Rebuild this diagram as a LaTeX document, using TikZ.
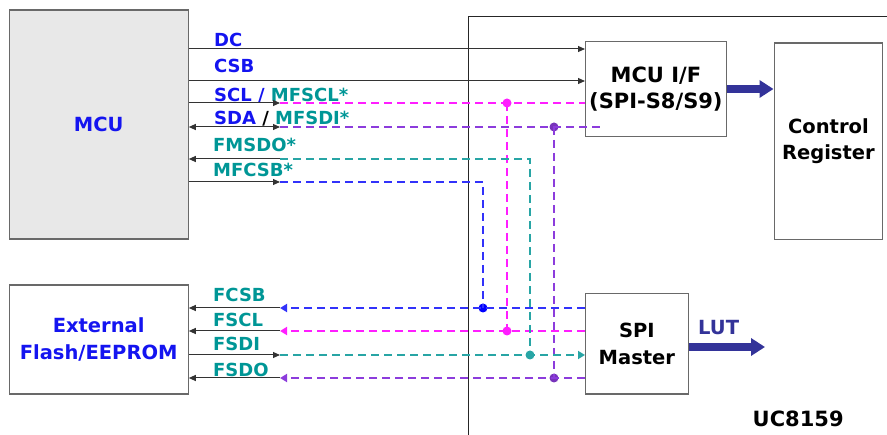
\documentclass[tikz,border=0pt]{standalone}
\usepackage{fontspec}
\setmainfont{DejaVu Sans}
\usetikzlibrary{arrows.meta,positioning}
\definecolor{sigblue}{RGB}{20,20,240}
\definecolor{sigteal}{RGB}{0,150,150}
\definecolor{dmag}{RGB}{255,30,255}
\definecolor{dpurp}{RGB}{140,60,220}
\definecolor{dblue}{RGB}{50,50,250}
\definecolor{dteal}{RGB}{40,165,165}
\definecolor{navy}{RGB}{51,51,153}
\definecolor{boxgray}{RGB}{105,105,105}
\definecolor{mcufill}{RGB}{232,232,232}
\begin{document}
\begin{tikzpicture}[x=1pt,y=-1pt,
  blk/.style={draw=boxgray,line width=1.3pt,inner sep=0pt,anchor=north west,align=center,font=\fontsize{19.5}{26.5}\selectfont\bfseries},
  sig/.style={anchor=base west,inner sep=0pt,font=\fontsize{18}{18}\selectfont\bfseries},
  wire/.style={draw=black!80,line width=1pt},
  tip/.style={-{Triangle[length=7pt,width=6pt]}},
  ctip/.style={-{Triangle[length=7pt,width=8pt]}},
  dashline/.style={line width=2pt,dash pattern=on 8pt off 5pt},
  dot/.style={circle,inner sep=0pt,minimum size=9pt},
  fat/.style={draw=navy,line width=8pt,-{Triangle[length=14pt,width=17pt]}}]
  \useasboundingbox (0,0) rectangle (887,435);
  \begin{scope}[every node/.style={blk}]
  \node[fill=mcufill,text=sigblue,minimum width=179pt,minimum height=229pt] (mcu) at (8.5,9.5) {MCU};
  \node[text=sigblue,minimum width=179pt,minimum height=109pt] (flash) at (8.5,284.5) {External\\Flash/EEPROM};
  \node[minimum width=140.5pt,minimum height=95pt,font=\fontsize{21}{25.7}\selectfont\bfseries] (mcuif) at (585,41) {MCU I/F\\(SPI-S8/S9)};
  \node[minimum width=108.5pt,minimum height=196.5pt] (ctrl) at (773.5,42.5) {Control\\Register};
  \node[minimum width=102.5pt,minimum height=100.5pt,font=\fontsize{19.5}{27}\selectfont\bfseries] (spim) at (585,293) {SPI\\Master};
  \end{scope}
  \draw[black!85,line width=1pt] (468.5,435) |- (887,16.5);
  \coordinate (tscl) at (280,103);
  \coordinate (tsda) at (280,127);
  \coordinate (tfmsdo) at (280,159);
  \coordinate (tmfcsb) at (280,182);
  \coordinate (tfcsb) at (280,308);
  \coordinate (tfscl) at (280,331);
  \coordinate (tfsdi) at (280,355);
  \coordinate (tfsdo) at (280,378);
  \coordinate (lutend) at (765,347);
  \begin{scope}[every node/.style={sig,text=sigblue}]
  \node (ldc) at (214,46.5) {DC};
  \node (lcsb) at (214,73) {CSB};
  \node (lscl) at (214,101.5) {SCL / \textcolor{sigteal}{MFSCL*}};
  \node (lsda) at (214,125) {SDA \textcolor{black}{/} \textcolor{sigteal}{MFSDI*}};
  \node[text=sigteal] (lfmsdo) at (213,151.5) {FMSDO*};
  \node[text=sigteal] (lmfcsb) at (213,176.5) {MFCSB*};
  \node[text=sigteal] (lfcsb) at (213,301.5) {FCSB};
  \node[text=sigteal] (lfscl) at (213,326.5) {FSCL};
  \node[text=sigteal] (lfsdi) at (213,351) {FSDI};
  \node[text=sigteal] (lfsdo) at (213,376.5) {FSDO};
  \node[text=navy,font=\fontsize{19.5}{19.5}\selectfont\bfseries] (llut) at (698,335) {LUT};
  \node[text=black,font=\fontsize{21}{21}\selectfont\bfseries] (lchip) at (752.5,426.5) {UC8159};
  \end{scope}
  \node[dot,fill=dmag] (jscl) at (507,103) {};
  \node[dot,fill=dmag] (jfscl) at (507,331) {};
  \node[dot,fill=dpurp!85!black] (jsda) at (554,127) {};
  \node[dot,fill=dpurp!85!black] (jfsdo) at (554,378) {};
  \node[dot,fill=dteal] (jfsdi) at (530,355) {};
  \node[dot,fill=blue] (jfcsb) at (483,308) {};
  \begin{scope}[every path/.style={wire}]
  \draw[tip] (mcu.east |- 0,49) -- (mcuif.west |- 0,49);
  \draw[tip] (mcu.east |- 0,81) -- (mcuif.west |- 0,81);
  \draw[tip] (mcu.east |- tscl) -- (tscl);
  \draw[{Triangle[length=7pt,width=6pt]}-{Triangle[length=7pt,width=6pt]}] (mcu.east |- tsda) -- (tsda);
  \draw[tip] (tfmsdo) -- (mcu.east |- tfmsdo);
  \draw[tip] (mcu.east |- tmfcsb) -- (tmfcsb);
  \draw[tip] (tfcsb) -- (flash.east |- tfcsb);
  \draw[tip] (tfscl) -- (flash.east |- tfscl);
  \draw[tip] (flash.east |- tfsdi) -- (tfsdi);
  \draw[tip] (tfsdo) -- (flash.east |- tfsdo);
  \end{scope}
  \begin{scope}[every path/.style={dashline}]
  \draw[dmag] (tscl) -- (mcuif.west |- tscl);
  \draw[dmag] (jscl.center) -- (jfscl.center);
  \draw[dmag,ctip] (spim.west |- tfscl) -- (tfscl);
  \draw[dpurp] (tsda) -- ([xshift=16pt]mcuif.west |- tsda);
  \draw[dpurp] (jsda.center) -- (jfsdo.center);
  \draw[dpurp,ctip] (spim.west |- tfsdo) -- (tfsdo);
  \draw[dteal] (tfmsdo) -| (jfsdi.center);
  \draw[dteal,ctip] (tfsdi) -- (spim.west |- tfsdi);
  \draw[dblue] (tmfcsb) -| (jfcsb.center);
  \draw[dblue,ctip] (spim.west |- tfcsb) -- (tfcsb);
  \end{scope}
  \draw[fat] (mcuif.east |- 0,89) -- (ctrl.west |- 0,89);
  \draw[fat] (spim.east |- lutend) -- (lutend);
\end{tikzpicture}
\end{document}
